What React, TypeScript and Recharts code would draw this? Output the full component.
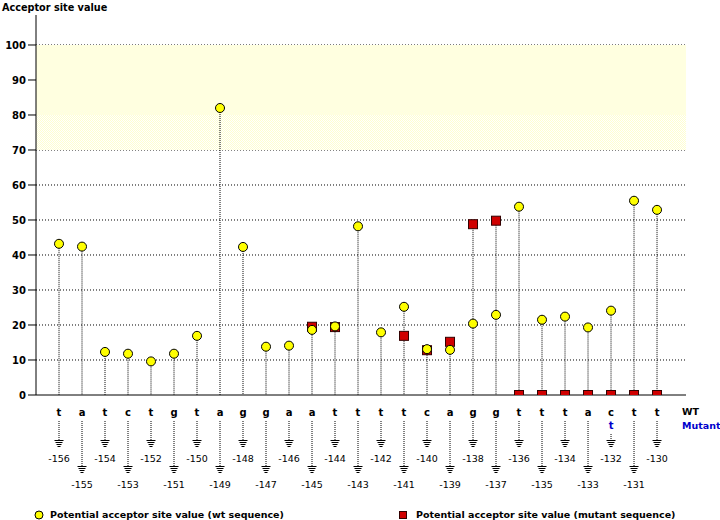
import {
  Bar,
  CartesianGrid,
  ComposedChart,
  ReferenceArea,
  Scatter,
  XAxis,
  YAxis,
} from 'recharts';

const positions = [
  -156, -155, -154, -153, -152, -151, -150, -149, -148, -147, -146, -145, -144, -143,
  -142, -141, -140, -139, -138, -137, -136, -135, -134, -133, -132, -131, -130,
];
const wtBases = [
  't', 'a', 't', 'c', 't', 'g', 't', 'a', 'g', 'g', 'a', 'a', 't', 't',
  't', 't', 'c', 'a', 'g', 'g', 't', 't', 't', 'a', 'c', 't', 't',
];
const mutantBases = [
  '', '', '', '', '', '', '', '', '', '', '', '', '', '',
  '', '', '', '', '', '', '', '', '', '', 't', '', '',
];
const wtValues = [
  43.2, 42.4, 12.3, 11.8, 9.6, 11.8, 16.9, 82.0, 42.3, 13.8, 14.1, 18.6, 19.6, 48.2,
  17.9, 25.2, 13.1, 12.9, 20.4, 22.9, 53.8, 21.5, 22.4, 19.3, 24.1, 55.5, 52.9,
];
const mutantValues: (number | null)[] = [
  null, null, null, null, null, null, null, null, null, null, null, 19.5, 19.4, null,
  null, 16.9, 12.8, 15.2, 48.8, 49.8, 0, 0, 0, 0, 0, 0, 0,
];
const yTicks = [0, 10, 20, 30, 40, 50, 60, 70, 80, 90, 100];
const gridValues = [10, 20, 30, 40, 50, 60, 70, 80, 90, 100];

const rows = positions.map((pos, i) => ({
  pos,
  wt: wtValues[i],
  mut: mutantValues[i],
  stem: Math.max(wtValues[i], mutantValues[i] ?? 0),
}));
const wtRows = rows.map((r) => ({ pos: r.pos, wt: r.wt }));
const mutRows = rows.filter((r) => r.mut !== null).map((r) => ({ pos: r.pos, mut: r.mut }));

const boldFont = '"DejaVu Sans", sans-serif';

function BaseTick(props: any) {
  const { x, y, payload } = props;
  const i = positions.indexOf(payload.value);
  if (i < 0) return null;
  const low = i % 2 === 1;
  const groundY = y + (low ? 71 : 45);
  const stemTop = y + (mutantBases[i] ? 39 : 26);
  const last = i === positions.length - 1;
  return (
    <g>
      <text x={x} y={y + 21} textAnchor="middle" fontFamily={boldFont} fontWeight="bold" fontSize={10} fill="#000">
        {wtBases[i]}
      </text>
      {mutantBases[i] && (
        <text x={x} y={y + 34} textAnchor="middle" fontFamily={boldFont} fontWeight="bold" fontSize={10} fill="#0000cc">
          {mutantBases[i]}
        </text>
      )}
      <line x1={x} x2={x} y1={stemTop} y2={groundY} stroke="#000" strokeDasharray="1 1" />
      <line x1={x - 4.5} x2={x + 4.5} y1={groundY + 0.5} y2={groundY + 0.5} stroke="#000" />
      <line x1={x - 3.5} x2={x + 3.5} y1={groundY + 2.5} y2={groundY + 2.5} stroke="#000" />
      <line x1={x - 2.5} x2={x + 2.5} y1={groundY + 4.5} y2={groundY + 4.5} stroke="#000" />
      <line x1={x - 1.5} x2={x + 1.5} y1={groundY + 6.5} y2={groundY + 6.5} stroke="#000" />
      <text x={x} y={groundY + 22} textAnchor="middle" fontFamily={boldFont} fontSize={9.5} fill="#000">
        {payload.value}
      </text>
      {last && (
        <>
          <text x={x + 25} y={y + 20} fontFamily={boldFont} fontWeight="bold" fontSize={9.5} fill="#000">
            WT
          </text>
          <text x={x + 25} y={y + 34} fontFamily={boldFont} fontWeight="bold" fontSize={9.5} fill="#0000cc">
            Mutant
          </text>
        </>
      )}
    </g>
  );
}

function Stem(props: any) {
  const { x, y, width, height } = props;
  if (height == null || height <= 0) return null;
  const cx = x + width / 2;
  return <line x1={cx} x2={cx} y1={y} y2={y + height} stroke="#000" strokeDasharray="1 1" />;
}

function WtDot(props: any) {
  return <circle cx={props.cx} cy={props.cy} r={4.5} fill="#ffff00" stroke="#000" strokeWidth={1} />;
}

function MutSquare(props: any) {
  return (
    <rect x={props.cx - 4.5} y={props.cy - 4.5} width={9} height={9} fill="#d00000" stroke="#300" strokeWidth={1} />
  );
}

export default function App() {
  return (
    <div style={{ position: 'absolute', left: 0, top: 0, width: 720, height: 520, background: '#fff' }}>
      <ComposedChart
        width={720}
        height={520}
        data={rows}
        margin={{ top: 15, right: 34, left: 0, bottom: 0 }}
      >
        <defs>
          <pattern id="hatch" width={2} height={2} patternUnits="userSpaceOnUse">
            <rect width={2} height={2} fill="#ffffff" />
            <rect x={0} y={0} width={1} height={1} fill="#ffffd0" />
            <rect x={1} y={1} width={1} height={1} fill="#ffffd0" />
          </pattern>
        </defs>
        <ReferenceArea y1={80} y2={100} fill="#ffffe0" fillOpacity={1} stroke="none" ifOverflow="visible" />
        <ReferenceArea y1={70} y2={80} fill="url(#hatch)" fillOpacity={1} stroke="none" ifOverflow="visible" />
        <CartesianGrid
          vertical={false}
          horizontalValues={gridValues}
          stroke="#000"
          strokeDasharray="1 2"
        />
        <XAxis
          type="number"
          dataKey="pos"
          domain={[-157, -128.74]}
          ticks={positions}
          interval={0}
          allowDataOverflow
          tickLine={false}
          tickSize={0}
          tickMargin={0}
          axisLine={{ stroke: '#000' }}
          height={125}
          tick={<BaseTick />}
        />
        <YAxis
          type="number"
          domain={[0, 108.57]}
          ticks={yTicks}
          allowDataOverflow
          width={36}
          tickSize={8}
          tickMargin={2}
          tickLine={{ stroke: '#000' }}
          axisLine={{ stroke: '#000' }}
          tick={{ fill: '#000', fontSize: 10, fontWeight: 'bold', fontFamily: boldFont }}
        />
        <Bar dataKey="stem" barSize={1} shape={<Stem />} isAnimationActive={false} />
        <Scatter data={mutRows} dataKey="mut" shape={<MutSquare />} isAnimationActive={false} />
        <Scatter data={wtRows} dataKey="wt" shape={<WtDot />} isAnimationActive={false} />
        <text x={2} y={11} fontFamily={boldFont} fontWeight="bold" fontSize={9.7} fill="#000">
          Acceptor site value
        </text>
        <circle cx={39} cy={515} r={4} fill="#ffff00" stroke="#000" />
        <text x={50} y={518} fontFamily={boldFont} fontWeight="bold" fontSize={9.5} fill="#000">
          Potential acceptor site value (wt sequence)
        </text>
        <rect x={399.5} y={511.5} width={7} height={7} fill="#d00000" stroke="#300" />
        <text x={416} y={518} fontFamily={boldFont} fontWeight="bold" fontSize={9.5} fill="#000">
          Potential acceptor site value (mutant sequence)
        </text>
      </ComposedChart>
    </div>
  );
}
